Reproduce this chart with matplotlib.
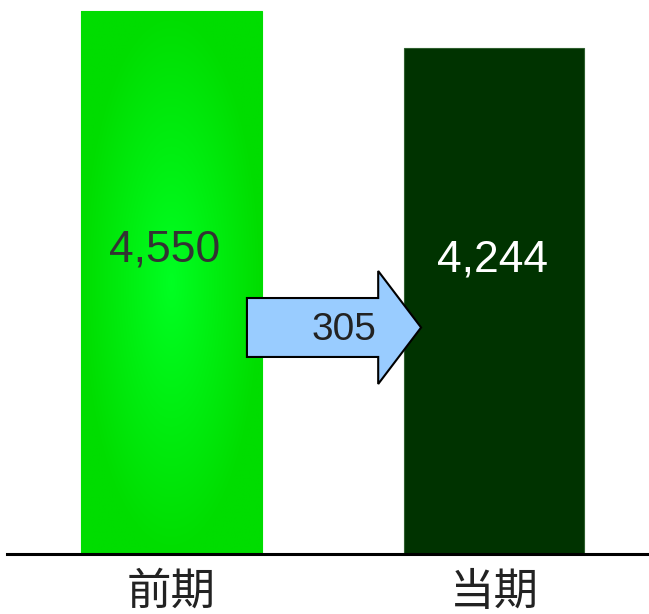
import numpy as np
import matplotlib.pyplot as plt
from matplotlib.patches import FancyArrow
from matplotlib.colors import LinearSegmentedColormap

plt.rcParams['font.family'] = ['Liberation Sans', 'Noto Sans CJK SC', 'DejaVu Sans']

categories = ['前期', '当期']
values = [4550, 4244]
change_label = '305'

fig = plt.figure(figsize=(6.49, 6.14), dpi=100)
ax = fig.add_axes([7 / 649, 60 / 614, 642 / 649, 554 / 614])

x = np.arange(len(categories))
width = 0.561
bars = ax.bar(x, values, width=width, color=['#00dd00', '#003300'],
              edgecolor=['#00dd00', '#2f5f2f'], linewidth=0.8, zorder=2)

ax.set_xlim(-0.510, -0.510 + 642 / 322.5)
ax.set_ylim(0, values[0] * 554 / 543)

# radial shading on the first bar
b0 = bars[0]
bx0, bw, bh = b0.get_x(), b0.get_width(), b0.get_height()
gx, gy = np.meshgrid(np.linspace(-1, 1, 200), np.linspace(-1, 1, 400))
r = np.clip(np.sqrt(gx ** 2 + gy ** 2), 0, 1)
cmap = LinearSegmentedColormap.from_list('g', ['#00ff22', '#00ee10', '#00dd00'])
im = ax.imshow(r, cmap=cmap, extent=[bx0, bx0 + bw, 0, bh], origin='lower',
               aspect='auto', zorder=2.5, interpolation='bilinear')
im.set_clip_path(b0)

ax.text(x[0] - 0.02, values[0] * 0.56, f'{values[0]:,}', ha='center', va='center',
        fontsize=32, color='#333333', zorder=4)
ax.text(x[1] - 0.005, values[1] * 0.58, f'{values[1]:,}', ha='center', va='center',
        fontsize=32, color='white', zorder=4)

# change arrow between the bars
ymax = ax.get_ylim()[1]
arr = FancyArrow(0.234, 1898, 0.54, 0, width=494, head_width=947,
                 head_length=0.133, length_includes_head=True,
                 facecolor='#99ccff', edgecolor='black', linewidth=1.5, zorder=5)
ax.add_patch(arr)
ax.text(0.534, 1880, change_label, ha='center', va='center', fontsize=28,
        color='#222222', zorder=6)

ax.axhline(0, color='black', linewidth=2.2, zorder=3, clip_on=False)

for xi, lab in zip(x, categories):
    ax.text(xi, -ymax * 0.068, lab, ha='center', va='center', fontsize=32,
            color='#222222', family=['Noto Sans CJK SC', 'DejaVu Sans'])

ax.axis('off')
fig.savefig('out.png', dpi=100)
